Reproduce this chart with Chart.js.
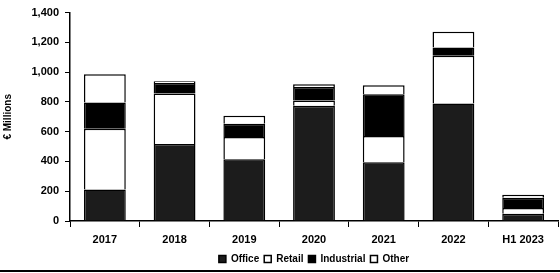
<!DOCTYPE html>
<html>
<head>
<meta charset="utf-8">
<script src="https://cdn.jsdelivr.net/npm/chart.js@4/dist/chart.umd.min.js"></script>
<style>
  html, body { margin: 0; padding: 0; background: #fff; }
  #wrap { width: 560px; height: 270px; border-bottom: 2px solid #000; }
</style>
</head>
<body>
<div id="wrap"><canvas id="chart" width="560" height="270"></canvas></div>
<script>
const categories = ['2017', '2018', '2019', '2020', '2021', '2022', 'H1 2023'];
const office = [211, 517, 415, 775, 395, 789, 48];
const retail = [408, 340, 150, 35, 176, 321, 40];
const industrial = [177, 70, 88, 90, 280, 55, 68];
const other = [190, 12, 54, 18, 61, 107, 21];

const FONT = { family: 'Liberation Sans, Arial, sans-serif', size: 11, weight: 'bold' };

function ds(label, data, fill) {
    return {
        label: label,
        data: data,
        backgroundColor: fill,
        borderColor: '#000',
        borderWidth: 1.5,
        barPercentage: 0.6,
        categoryPercentage: 1
    };
}

// nudge the legend a few px lower, closer to the bottom rule
const legendNudge = {
    id: 'legendNudge',
    afterLayout(chart) {
        if (chart.legend) {
            chart.legend.top += 4;
            chart.legend.bottom += 4;
        }
    }
};

new Chart(document.getElementById('chart'), {
    type: 'bar',
    data: {
        labels: categories,
        datasets: [
            ds('Office', office, '#1c1c1c'),
            ds('Retail', retail, '#ffffff'),
            ds('Industrial', industrial, '#000000'),
            ds('Other', other, '#ffffff')
        ]
    },
    plugins: [legendNudge],
    options: {
        responsive: false,
        animation: false,
        devicePixelRatio: 1,
        layout: { padding: { top: 8, right: 2, left: 0, bottom: 0 } },
        plugins: {
            tooltip: { enabled: false },
            legend: {
                position: 'bottom',
                fullSize: false,
                labels: {
                    boxWidth: 7,
                    boxHeight: 7,
                    padding: 5,
                    color: '#000',
                    font: { ...FONT, size: 10 }
                }
            }
        },
        scales: {
            x: {
                stacked: true,
                border: { color: '#000', width: 1.5 },
                grid: { drawOnChartArea: false, color: '#000', tickLength: 6, offset: true },
                ticks: { color: '#000', font: FONT, padding: 6, maxRotation: 0 },
                afterFit: s => { s.height = 24; }
            },
            y: {
                stacked: true,
                min: 0,
                max: 1400,
                border: { color: '#000', width: 1.5 },
                grid: { drawOnChartArea: false, color: '#000', tickLength: 5 },
                ticks: {
                    stepSize: 200,
                    color: '#000',
                    font: FONT,
                    padding: 6,
                    callback: v => v.toLocaleString('en-US')
                },
                title: { display: true, text: '€ Millions', color: '#000', font: { ...FONT, size: 10 }, padding: 2 },
                afterFit: s => { s.width = 70; }
            }
        }
    }
});
</script>
</body>
</html>
